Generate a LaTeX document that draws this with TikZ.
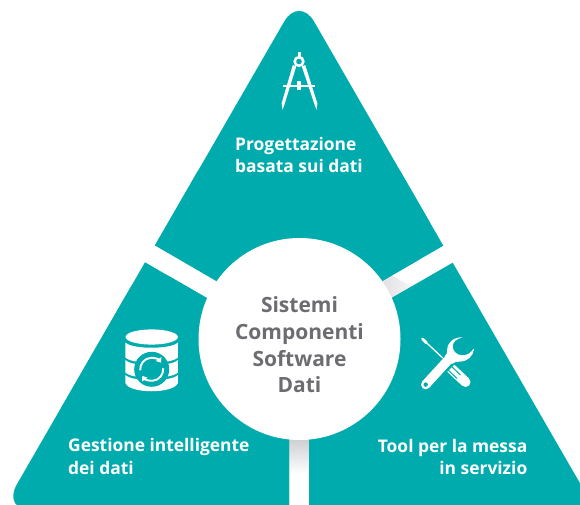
\documentclass[tikz,border=0pt]{standalone}
\usepackage{fontspec}
\usetikzlibrary{arrows.meta}
\newfontfamily\labfont{Open Sans}
\definecolor{tealfill}{RGB}{0,171,174}
\definecolor{centertext}{RGB}{108,108,113}
\definecolor{gapshade}{RGB}{203,203,206}
\tikzset{
  piece/.style={fill=tealfill,rounded corners=30},
  lab/.style={text=white,inner sep=0pt,font=\labfont\bfseries\fontsize{17.4}{22.3}\selectfont}
}
\begin{document}
\begin{tikzpicture}[x=1pt,y=-1pt]
\useasboundingbox (0,0) rectangle (580,505);
\clip (0,0) rectangle (580,505);
% gap shadows
\shade[top color=gapshade,bottom color=white] (285,436) rectangle (313,474);
\begin{scope}[shift={(391.7,298.3)},rotate=60]
\shade[left color=gapshade!80!white,right color=white] (-2,-30) rectangle (20,30);
\end{scope}
% white mask outside the right gap
\fill[white] (452.7,262.7) -- (443.3,245.7) -- (520,240) -- (520,300) -- cycle;
% pieces
\fill[piece] (299.15,-4.3) -- (443.3,245.7) [sharp corners] -- (299.15,329) -- (155,245.3) [rounded corners=30] -- cycle;
\fill[tealfill] (155,245.3) -- (299.15,329) -- (443.3,245.7) -- (400,170.7) -- (198,170.7) -- cycle;
\fill[piece] (145,262.3) [sharp corners] -- (289,345.5) -- (289,510.5) [rounded corners=30] -- (1.8,510.5) -- cycle;
\fill[tealfill] (145,262.3) -- (289,345.5) -- (289,510.5) -- (100,510.5) -- (60,410) -- cycle;
\fill[tealfill] (452.7,262.7) -- (309,345.5) -- (309,510.5) -- (595.7,510.5) -- cycle;
% centre
\node[circle,fill=white,minimum size=202pt,inner sep=0pt] (hub) at (299.5,339) {};
\node[inner sep=0pt,align=center,text=centertext,font=\labfont\bfseries\fontsize{21}{26.7}\selectfont] (hubtext) at (299.5,345) {Sistemi\\Componenti\\Software\\Dati};
% labels
\node[lab,align=left,anchor=west] (design) at (235,155.2) {Progettazione\\basata sui dati};
\node[lab,align=left,anchor=west] (data) at (68,456.5) {Gestione intelligente\\dei dati};
\node[lab,align=right,anchor=east] (tool) at (527.5,457) {Tool per la messa\\in servizio};
% compass icon
\fill[white] (297.5,52) rectangle (300.5,58);
\fill[white] (283.3,84.7) rectangle (315,87.5);
\fill[white] (296.8,81.5) rectangle (301.2,90);
\fill[white] (292.8,65) -- (296.2,66.5) -- (284.6,104) -- (282.6,109.8) -- (281.6,103.5) -- cycle;
\fill[white] (305.2,65) -- (301.8,66.5) -- (314.4,104) -- (316.5,109.8) -- (317.4,103.5) -- cycle;
\draw[white,line width=2.6] (299,61.5) circle[radius=4.3pt];
% database icon
\fill[white] (151.7,337) ellipse[x radius=26.2pt,y radius=7.6pt];
\fill[white] (125.4,342.5) .. controls (132,349.5) and (171,349.5) .. (177.9,342.5) -- (177.9,357.5) .. controls (171,364.5) and (132,364.5) .. (125.4,357.5) -- cycle;
\fill[white] (125.4,360) .. controls (132,367) and (171,367) .. (177.9,360) -- (177.9,372.5) .. controls (171,379.5) and (132,379.5) .. (125.4,372.5) -- cycle;
\fill[white] (125.4,375) .. controls (132,382) and (171,382) .. (177.9,375) -- (177.9,383) .. controls (174,394) and (129,394) .. (125.4,383) -- cycle;
\fill[tealfill] (151.7,369.3) circle[radius=17.5pt];
\coordinate (sync) at (151.7,369.3);
\draw[white,line width=1.9,-{Triangle[width=6.5pt,length=4.5pt]}] ([shift={(185:11.5pt)}]sync) arc[start angle=185,end angle=35,radius=11.5pt];
\draw[white,line width=1.9,-{Triangle[width=6.5pt,length=4.5pt]}] ([shift={(5:11.5pt)}]sync) arc[start angle=5,end angle=-145,radius=11.5pt];
% tools icon
\draw[white,line width=1.3] (421.7,338.3) -- (446,361);
\draw[white,line width=2.8,line cap=round] (422.5,339) -- (426.5,342.8);
\draw[white,line width=10,line cap=round] (449,366.5) -- (465.5,382);
\draw[tealfill,line width=1] (447,369) -- (457,378.5);
\draw[tealfill,line width=1] (450.5,365.5) -- (460.5,375);
\draw[tealfill,line width=12.5] (432,378) -- (452,358);
\draw[white,line width=9.4,line cap=round] (425.7,384.6) -- (450,358);
\fill[white] (462.5,337.3) .. controls (454,337) and (447.3,342) .. (447.2,350) .. controls (447,353) and (447,354) .. (445,356) -- (452,364) .. controls (454,362) and (456,361.7) .. (460,361.7) .. controls (467,361.7) and (473.5,356) .. (474,349) -- (473.5,348.8) .. controls (471,353) and (467,355.3) .. (462,355.3) .. controls (456,355) and (452.5,350.5) .. (452.7,346) .. controls (453,342) and (456,339) .. (462.5,337.3) -- cycle;
\fill[tealfill] (425.7,384.6) circle[radius=2.2pt];
\end{tikzpicture}
\end{document}
